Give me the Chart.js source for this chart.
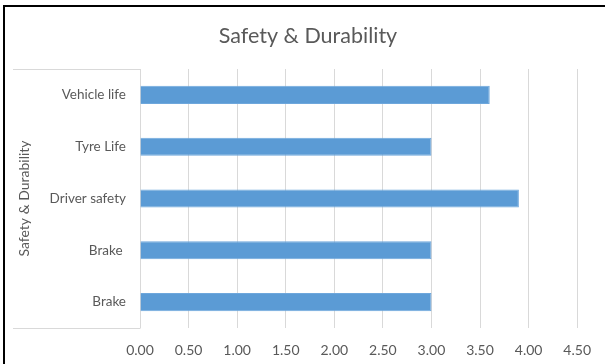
<!DOCTYPE html>
<html>
<head>
<meta charset="utf-8">
<script src="https://cdn.jsdelivr.net/npm/chart.js@4/dist/chart.umd.min.js"></script>
<style>
  html, body { margin: 0; padding: 0; background: #ffffff; }
  #wrap { position: relative; width: 605px; height: 364px; }
</style>
</head>
<body>
<div id="wrap"><canvas id="c" width="605" height="364"></canvas></div>
<script>
// Survey scores for the safety & durability items (top to bottom)
const categories = ['Vehicle life', 'Tyre Life', 'Driver safety', 'Brake ', 'Brake'];
const scores = [3.6, 3.0, 3.9, 3.0, 3.0];
const xTicks = [0, 0.5, 1, 1.5, 2, 2.5, 3, 3.5, 4, 4.5];
const chartTitle = 'Safety & Durability';
const axisTitle = 'Safety & Durability';

const FONT = "Lato, 'Open Sans', 'DejaVu Sans', sans-serif";
const TEXT = '#595959';
const GRID = '#d9d9d9';

// Frame lines, heading and the outlined label panel
const framePlugin = {
  id: 'frame',
  beforeDraw(chart) {
    const ctx = chart.ctx;
    const a = chart.chartArea;
    ctx.save();
    ctx.fillStyle = '#ffffff';
    ctx.fillRect(0, 0, chart.width, chart.height);
    ctx.strokeStyle = GRID;
    ctx.lineWidth = 1;
    ctx.beginPath();
    ctx.moveTo(13, Math.round(a.top) + 0.5);
    ctx.lineTo(Math.round(a.left) + 0.5, Math.round(a.top) + 0.5);
    ctx.moveTo(13, Math.round(a.bottom) + 0.5);
    ctx.lineTo(Math.round(a.left) + 0.5, Math.round(a.bottom) + 0.5);
    ctx.stroke();
    ctx.restore();
  },
  afterDraw(chart) {
    const ctx = chart.ctx;
    ctx.save();
    ctx.fillStyle = TEXT;
    ctx.font = '21.5px ' + FONT;
    ctx.textAlign = 'center';
    ctx.textBaseline = 'middle';
    ctx.fillText(chartTitle, 308, 36);
    ctx.fillStyle = '#000000';
    ctx.fillRect(3, 5, 2, chart.height - 5);
    ctx.fillRect(3, 5, chart.width - 3, 2);
    ctx.restore();
  }
};

new Chart(document.getElementById('c'), {
  type: 'bar',
  data: {
    labels: categories,
    datasets: [{
      data: scores,
      backgroundColor: '#5b9bd5',
      borderColor: '#6ea7dc',
      borderWidth: 1,
      barPercentage: 0.35,
      categoryPercentage: 1.0
    }]
  },
  options: {
    indexAxis: 'y',
    responsive: false,
    animation: false,
    layout: { padding: { top: 69, left: 13, right: 27, bottom: 0 } },
    plugins: {
      legend: { display: false },
      tooltip: { enabled: false },
      title: { display: false }
    },
    scales: {
      x: {
        type: 'linear',
        min: 0,
        max: 4.5,
        afterBuildTicks(scale) {
          scale.ticks = xTicks.map(v => ({ value: v }));
        },
        afterFit(scale) { scale.height = 36; },
        grid: { color: GRID, lineWidth: 1, drawTicks: false },
        border: { display: false },
        ticks: {
          color: TEXT,
          padding: 14,
          font: { family: FONT, size: 14 },
          callback: v => Number(v).toFixed(2)
        }
      },
      y: {
        afterFit(scale) { scale.width = 127; },
        grid: { display: false, drawTicks: false },
        border: { display: false },
        ticks: {
          color: TEXT,
          padding: 14,
          font: { family: FONT, size: 13.5 }
        },
        title: {
          display: true,
          text: axisTitle,
          color: TEXT,
          font: { family: FONT, size: 14 },
          padding: { top: 3, bottom: 0 }
        }
      }
    }
  },
  plugins: [framePlugin]
});
</script>
</body>
</html>
